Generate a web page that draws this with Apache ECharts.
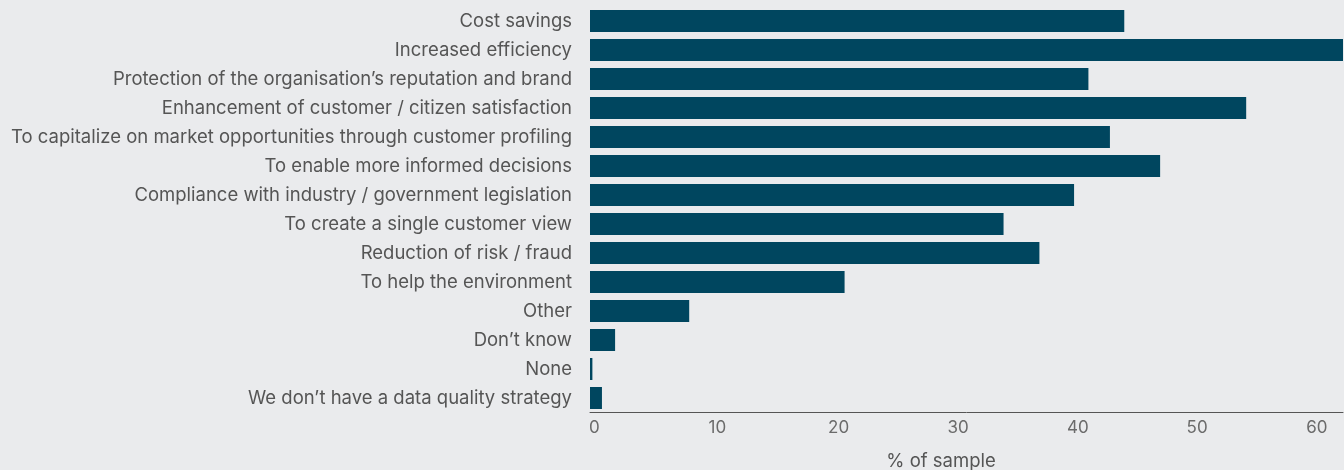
<!DOCTYPE html>
<html>
<head>
<meta charset="utf-8">
<script src="https://cdn.jsdelivr.net/npm/echarts@6/dist/echarts.min.js"></script>
<style>
html,body{margin:0;padding:0;background:#eaebed;}
#c{width:1344px;height:470px;}
</style>
</head>
<body>
<div id="c"></div>
<script>
const categories = [
  "Cost savings",
  "Increased efficiency",
  "Protection of the organisation\u2019s reputation and brand",
  "Enhancement of customer / citizen satisfaction",
  "To capitalize on market opportunities through customer profiling",
  "To enable more informed decisions",
  "Compliance with industry / government legislation",
  "To create a single customer view",
  "Reduction of risk / fraud",
  "To help the environment",
  "Other",
  "Don\u2019t know",
  "None",
  "We don\u2019t have a data quality strategy"
];
const values = [44.7, 63.0, 41.7, 54.9, 43.5, 47.7, 40.5, 34.6, 37.6, 21.3, 8.3, 2.1, 0.2, 1.0];
const axisTitle = "% of sample";

const font = "Inter, 'Liberation Sans', Arial, sans-serif";
const chart = echarts.init(document.getElementById('c'), null, {renderer: 'canvas'});
chart.setOption({
  backgroundColor: '#eaebed',
  animation: false,
  grid: {left: 590, right: 1, top: 6.5, bottom: 57.5, containLabel: false},
  xAxis: {
    type: 'value',
    min: 0, max: 63, interval: 10,
    axisLine: {show: true, lineStyle: {color: '#555555', width: 1}},
    axisTick: {show: false},
    splitLine: {show: false},
    axisLabel: {
      showMaxLabel: false,
      align: 'left', margin: 7,
      color: '#6b6b6b', fontSize: 17, fontFamily: font,
      padding: [0, 0, 0, -1]
    }
  },
  yAxis: {
    type: 'category',
    data: categories,
    inverse: true,
    axisLine: {show: false},
    axisTick: {show: false},
    splitLine: {show: false},
    axisLabel: {color: '#555555', fontSize: 18.5, fontFamily: font, margin: 18}
  },
  graphic: [{
    type: 'text',
    x: 941,
    y: 461,
    style: {text: axisTitle, fill: '#555555', font: '18.5px ' + font, align: 'center', verticalAlign: 'middle'}
  }],
  series: [{
    type: 'bar',
    data: values,
    barWidth: 22,
    itemStyle: {color: '#00465f'},
    silent: true
  }]
});
</script>
</body>
</html>
